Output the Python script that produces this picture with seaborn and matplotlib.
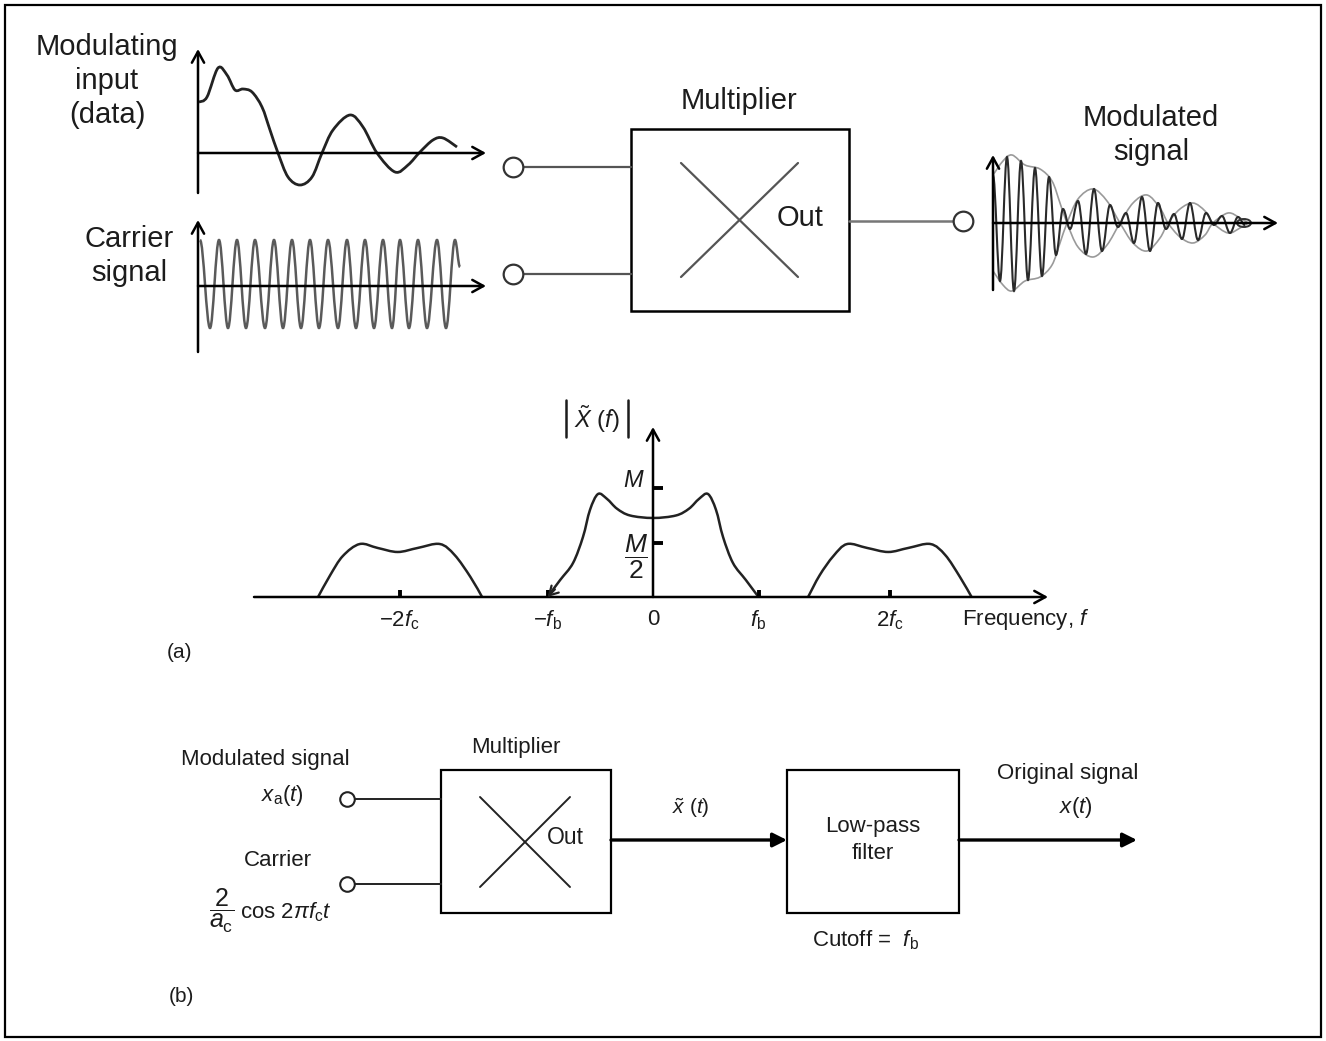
import numpy as np
import pandas as pd
import matplotlib
matplotlib.use("Agg")
import matplotlib.pyplot as plt
from matplotlib.path import Path
from matplotlib.patches import PathPatch, Rectangle, Ellipse
import seaborn as sns

sns.set_theme(style="white")
plt.rcParams["font.family"] = ["Liberation Sans", "DejaVu Sans"]
plt.rcParams["mathtext.fontset"] = "custom"
plt.rcParams["mathtext.rm"] = "Liberation Sans"
plt.rcParams["mathtext.it"] = "Liberation Sans:italic"
plt.rcParams["mathtext.bf"] = "Liberation Sans:bold"

W, H = 1326, 1041
TXT = "#1c1c1c"

# ---------------- data ----------------
# modulating input waveform (pixel coordinates in the diagram)
mod_in_x = [199, 207, 218, 227, 235, 243, 252, 262, 270, 278, 288, 300, 312, 322,
            333, 350, 363, 377, 395, 408, 420, 433, 443, 457]
mod_in_y = [102, 97, 68, 75, 90, 89, 92, 107, 130, 153, 177, 185, 177, 153,
            130, 115, 127, 153, 172, 165, 152, 140, 138, 147]

# carrier extremes (alternating crest / trough)
carrier_x = [200, 210, 219, 228, 237, 246, 255, 265, 274, 283, 292, 301, 310, 319,
             328, 338, 347, 356, 365, 374, 383, 392, 400, 409, 418, 427, 437, 446, 455]
carrier_top, carrier_bot = 240, 328

# modulated signal: envelope and oscillation extremes
env_x = [993, 1003, 1012, 1025, 1040, 1052, 1060, 1067, 1078, 1093, 1107, 1120,
         1133, 1147, 1160, 1168, 1180, 1193, 1205, 1213, 1228, 1240, 1248]
env_v = [48, 62, 68, 58, 54, 42, 20, 0, -24, -34, -22, 0,
         20, 28, 15, 0, -14, -20, -12, 0, 10, 5, 0]
osc_x = [993, 1000, 1007, 1014, 1021, 1028, 1035, 1042, 1049, 1056, 1063, 1070,
         1078, 1086, 1094, 1102, 1110, 1118, 1126, 1134, 1142, 1150, 1158, 1166,
         1174, 1182, 1190, 1198, 1206, 1214, 1222, 1230, 1238, 1245]
osc_amp = [48, 58, 66, 68, 62, 57, 55, 53, 46, 32, 14, 6,
           22, 31, 34, 28, 18, 4, 10, 20, 26, 28, 20, 6,
           9, 16, 20, 17, 10, 2, 7, 10, 6, 2]

# spectrum |X~(f)|  (f in units of f_b, magnitude in units of M)
lobe_left_f = [-3.175, -3.06, -2.94, -2.78, -2.61, -2.42, -2.23, -2.02, -1.88, -1.73, -1.62]
lobe_left_m = [0.0, 0.20, 0.376, 0.486, 0.45, 0.413, 0.45, 0.486, 0.385, 0.183, 0.0]
lobe_mid_f = [-1.0, -0.88, -0.758, -0.664, -0.597, -0.521, -0.436, -0.341, -0.218, 0.0,
              0.218, 0.341, 0.436, 0.521, 0.597, 0.664, 0.758, 0.88, 1.0]
lobe_mid_m = [0.0, 0.156, 0.312, 0.55, 0.80, 0.945, 0.90, 0.81, 0.748, 0.725,
              0.748, 0.81, 0.90, 0.945, 0.80, 0.55, 0.312, 0.156, 0.0]
lobe_right_f = [1.47, 1.58, 1.71, 1.84, 2.03, 2.23, 2.42, 2.63, 2.77, 2.91, 3.02]
lobe_right_m = [0.0, 0.20, 0.376, 0.486, 0.45, 0.413, 0.45, 0.486, 0.385, 0.183, 0.0]
freq_ticks = [-2.40, -1.0, 0.0, 1.0, 2.25]
freq_labels = [r"$-2f_{\mathrm{c}}$", r"$-f_{\mathrm{b}}$", "0", r"$f_{\mathrm{b}}$", r"$2f_{\mathrm{c}}$"]
mag_ticks = [1.0, 0.5]
mag_labels = [r"$M$", r"$\dfrac{M}{2}$"]


# ---------------- helpers ----------------
def catmull_path(xs, ys):
    P = np.column_stack([xs, ys]).astype(float)
    n = len(P)
    verts, codes = [P[0]], [Path.MOVETO]
    for i in range(n - 1):
        p0 = P[i - 1] if i > 0 else P[i]
        p1, p2 = P[i], P[i + 1]
        p3 = P[i + 2] if i + 2 < n else P[i + 1]
        verts += [p1 + (p2 - p0) / 6.0, p2 - (p3 - p1) / 6.0, p2]
        codes += [Path.CURVE4] * 3
    return Path(verts, codes)


def extremes_path(xs, ys):
    verts, codes = [(xs[0], ys[0])], [Path.MOVETO]
    for i in range(len(xs) - 1):
        x0, y0, x1, y1 = xs[i], ys[i], xs[i + 1], ys[i + 1]
        dx = x1 - x0
        verts += [(x0 + 0.3642 * dx, y0), (x1 - 0.3642 * dx, y1), (x1, y1)]
        codes += [Path.CURVE4] * 3
    return Path(verts, codes)


def arrow(ax, p0, p1, lw=1.8, solid=False, color="black", ms=20):
    if solid:
        style = "-|>,head_length=0.6,head_width=0.3"
    else:
        style = "->,head_length=0.4,head_width=0.22"
    ax.annotate("", xy=p1, xytext=p0,
                arrowprops=dict(arrowstyle=style, lw=lw, color=color,
                                shrinkA=0, shrinkB=0, mutation_scale=ms),
                annotation_clip=False)


# ---------------- figure ----------------
fig = plt.figure(figsize=(W / 100, H / 100), dpi=100)
fig.patch.set_facecolor("white")
ax = fig.add_axes([0, 0, 1, 1])
ax.set_xlim(0, W)
ax.set_ylim(H, 0)
ax.axis("off")

# frame
ax.add_patch(Rectangle((5, 5), 1316, 1032, fill=False, lw=1.6, ec="black"))

# ----- top: modulating input -----
arrow(ax, (198, 193), (198, 49))
arrow(ax, (198, 153), (486, 153))
ax.add_patch(PathPatch(catmull_path(mod_in_x, mod_in_y), fill=False, lw=2.0, ec="#222222"))
ax.text(107, 81, "Modulating\ninput\n(data)", fontsize=21, ha="center", va="center",
        linespacing=1.28, color=TXT)

# ----- top: carrier -----
arrow(ax, (198, 352), (198, 220))
arrow(ax, (198, 286), (486, 286))
car_y = [carrier_top if i % 2 == 0 else carrier_bot for i in range(len(carrier_x))]
cx = carrier_x + [460]
cy = car_y + [267]
ax.add_patch(PathPatch(extremes_path(cx, cy), fill=False, lw=1.8, ec="#5a5a5a"))
ax.text(129, 256, "Carrier\nsignal", fontsize=21, ha="center", va="center",
        linespacing=1.25, color=TXT)

# ----- top: multiplier -----
ax.add_patch(Rectangle((631, 129), 218, 182, fill=False, lw=1.8, ec="black"))
ax.plot([681, 798], [163, 277], color="#555555", lw=1.6)
ax.plot([798, 681], [163, 277], color="#555555", lw=1.6)
ax.text(739, 101, "Multiplier", fontsize=21, ha="center", va="center", color=TXT)
ax.text(800, 218, "Out", fontsize=21, ha="center", va="center", color=TXT)
ax.plot([522, 631], [167, 167], color="#555555", lw=1.6)
ax.plot([522, 631], [274, 274], color="#555555", lw=1.6)
ax.plot([849, 954], [221, 221], color="#777777", lw=1.8)
term_top = pd.DataFrame({"x": [513, 513, 963], "y": [167, 274, 221]})
sns.scatterplot(data=term_top, x="x", y="y", ax=ax, s=200, marker="o",
                facecolor="white", edgecolor="#333333", linewidth=1.6, zorder=5, legend=False)

# ----- top: modulated signal -----
arrow(ax, (993, 290), (993, 155))
arrow(ax, (993, 223), (1278, 223))
osc_y = [223 - a if i % 2 == 0 else 223 + a for i, a in enumerate(osc_amp)]
ax.add_patch(PathPatch(catmull_path(env_x, [223 - v for v in env_v]), fill=False, lw=1.2, ec="#9a9a9a"))
ax.add_patch(PathPatch(catmull_path(env_x, [223 + v for v in env_v]), fill=False, lw=1.2, ec="#9a9a9a"))
ax.add_patch(PathPatch(extremes_path(osc_x, osc_y), fill=False, lw=1.5, ec="#2a2a2a"))
ax.add_patch(Ellipse((1244, 223), 14, 8, fill=False, lw=1.4, ec="#333333"))
ax.text(1151, 135, "Modulated\nsignal", fontsize=21, ha="center", va="center",
        linespacing=1.25, color=TXT)

# ----- middle: spectrum (its own axes) -----
x0p, x1p, y0p, y1p = 254, 1048, 597, 427
axs = fig.add_axes([x0p / W, 1 - y0p / H, (x1p - x0p) / W, (y0p - y1p) / H])
fpx, mpx = 105.5, 109.0
axs.set_xlim((x0p - 653) / fpx, (x1p - 653) / fpx)
axs.set_ylim(0, (y0p - y1p) / mpx)
axs.axis("off")
axs.patch.set_alpha(0)
xmin, xmax = axs.get_xlim()
ymax = axs.get_ylim()[1]
arrow(axs, (xmin, 0), (xmax, 0))
arrow(axs, (0, 0), (0, ymax))
for fx, mx in [(lobe_left_f, lobe_left_m), (lobe_mid_f, lobe_mid_m), (lobe_right_f, lobe_right_m)]:
    pp = PathPatch(catmull_path(fx, mx), fill=False, lw=1.8, ec="#222222")
    pp.set_clip_on(False)
    axs.add_patch(pp)
axs.annotate("", xy=(-1.0, 0.0), xytext=(-0.93, 0.07),
             arrowprops=dict(arrowstyle="->,head_length=0.35,head_width=0.2", lw=1.6,
                             color="#222222", shrinkA=0, shrinkB=0, mutation_scale=18),
             annotation_clip=False)
for t, lab in zip(freq_ticks, freq_labels):
    if t != 0.0:
        axs.plot([t, t], [0, 0.065], color="black", lw=2.8, clip_on=False, solid_capstyle="butt")
    axs.text(t, -0.21, lab, fontsize=16, ha="center", va="center", color=TXT)
for m in mag_ticks:
    axs.plot([0, 0.095], [m, m], color="black", lw=2.8, clip_on=False, solid_capstyle="butt")
axs.text(-0.08, 1.06, mag_labels[0], fontsize=17, ha="right", va="center", color=TXT)
axs.text(-0.05, 0.37, mag_labels[1], fontsize=19, ha="right", va="center", color=TXT)
# |X~(f)| label with tall bars
for bx in [(566 - 653) / fpx, (628 - 653) / fpx]:
    axs.plot([bx, bx], [(597 - 400) / mpx, (597 - 437) / mpx], color=TXT, lw=1.8, clip_on=False)
axs.text((597 - 653) / fpx, (597 - 419) / mpx, r"$\tilde{X}\ (f)$", fontsize=17, ha="center",
         va="center", color=TXT)
axs.text(2.93, -0.21, r"Frequency, $f$", fontsize=16, ha="left", va="center", color=TXT)
ax.text(180, 653, "(a)", fontsize=15, ha="center", va="center", color=TXT)

# ----- bottom (b) -----
ax.add_patch(Rectangle((441, 770), 170, 143, fill=False, lw=1.6, ec="black"))
ax.plot([480, 570], [797, 887], color="#222222", lw=1.4)
ax.plot([570, 480], [797, 887], color="#222222", lw=1.4)
ax.text(516, 748, "Multiplier", fontsize=16, ha="center", va="center", color=TXT)
ax.text(565, 838, "Out", fontsize=16.5, ha="center", va="center", color=TXT)
ax.plot([355, 441], [799, 799], color="#222222", lw=1.4)
ax.plot([355, 441], [884, 884], color="#222222", lw=1.4)
term_bot = pd.DataFrame({"x": [347, 347], "y": [799, 884]})
sns.scatterplot(data=term_bot, x="x", y="y", ax=ax, s=110, marker="o",
                facecolor="white", edgecolor="#222222", linewidth=1.5, zorder=5, legend=False)
ax.text(265, 760, "Modulated signal", fontsize=16, ha="center", va="center", color=TXT)
ax.text(282, 795, r"$x_{\mathrm{a}}(t)$", fontsize=16, ha="center", va="center", color=TXT)
ax.text(278, 860, "Carrier", fontsize=16, ha="center", va="center", color=TXT)
ax.text(222, 911, r"$\dfrac{2}{a_{\mathrm{c}}}$", fontsize=18, ha="center", va="center", color=TXT)
ax.text(240, 912, r"cos 2$\pi f_{\mathrm{c}}t$", fontsize=16, ha="left", va="center", color=TXT)

arrow(ax, (611, 840), (787, 840), lw=2.4, solid=True, ms=14)
ax.text(691, 808, r"$\tilde{x}\ (t)$", fontsize=15, ha="center", va="center", color=TXT)
ax.add_patch(Rectangle((787, 770), 172, 143, fill=False, lw=1.6, ec="black"))
ax.text(873, 840, "Low-pass\nfilter", fontsize=16, ha="center", va="center",
        linespacing=1.4, color=TXT)
ax.text(866, 940, r"Cutoff =  $f_{\mathrm{b}}$", fontsize=16, ha="center", va="center", color=TXT)
arrow(ax, (959, 840), (1137, 840), lw=2.4, solid=True, ms=14)
ax.text(1068, 774, "Original signal", fontsize=16, ha="center", va="center", color=TXT)
ax.text(1076, 807, r"$x(t)$", fontsize=16, ha="center", va="center", color=TXT)
ax.text(181, 997, "(b)", fontsize=15, ha="center", va="center", color=TXT)

fig.savefig("out.png", dpi=100, facecolor="white")
